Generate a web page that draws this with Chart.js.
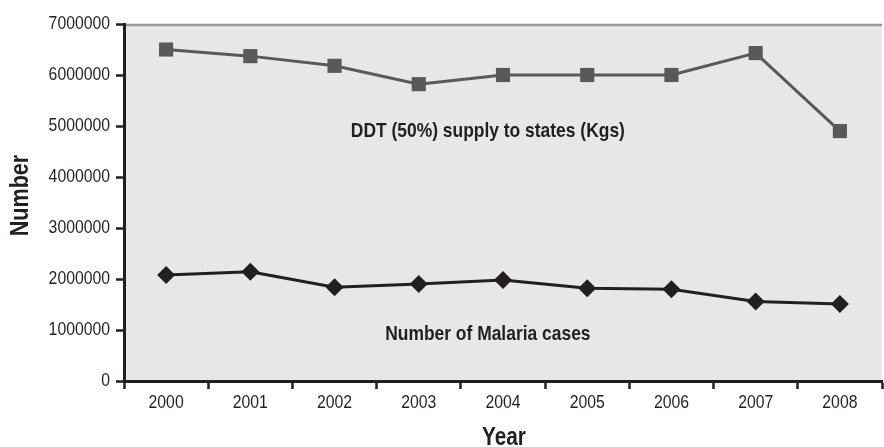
<!DOCTYPE html>
<html>
<head>
<meta charset="utf-8">
<script src="https://cdn.jsdelivr.net/npm/chart.js@4/dist/chart.umd.min.js"></script>
<style>
  html, body { margin: 0; padding: 0; background: #ffffff; overflow: hidden; }
  #wrap { position: relative; width: 892px; height: 447px; }
</style>
</head>
<body>
<div id="wrap"><canvas id="chart"></canvas></div>
<script>
// Years on the horizontal axis
const years = ['2000', '2001', '2002', '2003', '2004', '2005', '2006', '2007', '2008'];

// DDT (50%) supplied to states, in kilograms
const ddtSupply = [6500000, 6370000, 6180000, 5820000, 6000000, 6000000, 6000000, 6430000, 4900000];

// Reported malaria cases
const malariaCases = [2080000, 2140000, 1840000, 1900000, 1980000, 1820000, 1800000, 1560000, 1510000];

// Series captions written inside the plot
const seriesNames = ['DDT (50%) supply to states (Kgs)', 'Number of Malaria cases'];

// Axis titles
const axisTitles = { x: 'Year', y: 'Number' };

const INK = '#231f20';
const SANS = '"Liberation Sans", Arial, sans-serif';
const NARROW_X = 0.83;   // horizontal squeeze giving a condensed face

// Draw a horizontally condensed string
function condensed(ctx, text, x, y, align, angle) {
  ctx.save();
  ctx.translate(x, y);
  if (angle) ctx.rotate(angle);
  ctx.scale(NARROW_X, 1);
  ctx.textAlign = align;
  ctx.textBaseline = 'middle';
  ctx.fillText(text, 0, 0);
  ctx.restore();
}

// Grey plot background with a darker top edge
const plotBackground = {
  id: 'plotBackground',
  beforeDraw(chart) {
    const { ctx, chartArea: a } = chart;
    ctx.save();
    ctx.fillStyle = '#e6e7e8';
    ctx.fillRect(a.left, a.top, a.right - a.left, a.bottom - a.top);
    ctx.strokeStyle = '#97999b';
    ctx.lineWidth = 2.5;
    ctx.beginPath();
    ctx.moveTo(a.left, a.top + 1);
    ctx.lineTo(a.right, a.top + 1);
    ctx.stroke();
    ctx.restore();
  }
};

// Tick labels, axis titles and series captions in a condensed face
const chartText = {
  id: 'chartText',
  afterDraw(chart, args, opts) {
    const { ctx, chartArea: a } = chart;
    const xs = chart.scales.x, ys = chart.scales.y;
    ctx.save();
    ctx.fillStyle = INK;

    ctx.font = '19px ' + SANS;
    ys.ticks.forEach(t => {
      condensed(ctx, String(t.value), ys.right - 14, ys.getPixelForValue(t.value), 'right');
    });
    xs.ticks.forEach((t, i) => {
      condensed(ctx, xs.getLabelForValue(t.value), xs.getPixelForTick(i), xs.top + 22, 'center');
    });

    ctx.font = 'bold 25px ' + SANS;
    condensed(ctx, axisTitles.x, (a.left + a.right) / 2 + 1, xs.top + 57, 'center');
    ctx.font = 'bold 26px ' + SANS;
    condensed(ctx, axisTitles.y, ys.left + 15, (a.top + a.bottom) / 2 - 7, 'center', -Math.PI / 2);

    ctx.font = 'bold 21px ' + SANS;
    opts.items.forEach((it, i) => {
      condensed(ctx, seriesNames[i], xs.getPixelForValue(it.at), ys.getPixelForValue(it.value), 'center');
    });
    ctx.restore();
  }
};

new Chart(document.getElementById('chart'), {
  type: 'line',
  data: {
    labels: years,
    datasets: [
      {
        label: seriesNames[0],
        data: ddtSupply,
        borderColor: '#58595b',
        backgroundColor: '#58595b',
        borderWidth: 3,
        pointStyle: 'rect',
        pointRadius: 10,
        pointHoverRadius: 10,
        pointBorderWidth: 0,
        tension: 0
      },
      {
        label: seriesNames[1],
        data: malariaCases,
        borderColor: INK,
        backgroundColor: INK,
        borderWidth: 3,
        pointStyle: 'rectRot',
        pointRadius: 9,
        pointHoverRadius: 9,
        pointBorderWidth: 0,
        tension: 0
      }
    ]
  },
  plugins: [plotBackground, chartText],
  options: {
    responsive: true,
    maintainAspectRatio: false,
    animation: false,
    layout: { padding: { top: 24, right: 4, bottom: 0, left: 6 } },
    plugins: {
      legend: { display: false },
      tooltip: { enabled: false },
      chartText: {
        items: [
          { at: 3.82, value: 4900000 },
          { at: 3.82, value: 920000 }
        ]
      }
    },
    scales: {
      x: {
        type: 'category',
        offset: true,
        border: { display: true, color: INK, width: 3 },
        grid: {
          offset: true,
          drawOnChartArea: false,
          drawTicks: true,
          tickLength: 8,
          tickColor: INK,
          tickWidth: 2.5
        },
        ticks: { display: false, autoSkip: false },
        afterFit(scale) { scale.height = 66; }
      },
      y: {
        min: 0,
        max: 7000000,
        border: { display: true, color: INK, width: 3 },
        grid: {
          drawOnChartArea: false,
          drawTicks: true,
          tickLength: 8,
          tickColor: INK,
          tickWidth: 2.5
        },
        ticks: { display: false, stepSize: 1000000 },
        afterFit(scale) { scale.width = 118; }
      }
    }
  }
});
</script>
</body>
</html>
